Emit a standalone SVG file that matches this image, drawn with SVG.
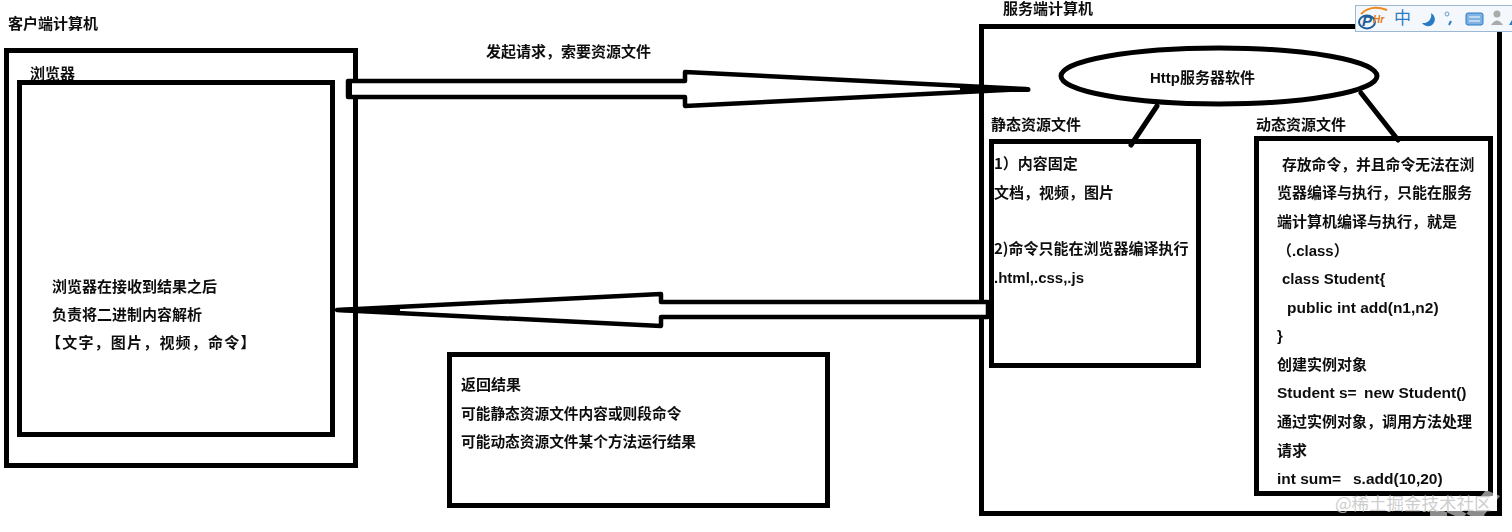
<svg xmlns="http://www.w3.org/2000/svg" width="1512" height="532" viewBox="0 0 1512 532">
<style>
.b{fill:none;stroke:#000;stroke-width:5}
.c{fill:#fff;stroke:#000;stroke-width:4.500;stroke-linejoin:round}
text{font-family:"Noto Sans CJK SC","Liberation Sans",sans-serif;font-size:15px;font-weight:700;fill:#111}
.en{font-family:"Liberation Sans","Noto Sans CJK SC",sans-serif;font-size:15px}
.w{font-size:15.500px}
</style>
<defs><filter id="s" x="-2%" y="-2%" width="104%" height="104%"><feGaussianBlur stdDeviation="0.5"/></filter></defs>
<rect width="1512" height="532" fill="#fff"/>
<g filter="url(#s)">
<g id="client">
<rect class="b" x="6.500" y="50.500" width="349" height="415"/>
<text x="8" y="29">客户端计算机</text>
</g>
<g id="browser">
<text x="30" y="79">浏览器</text>
<rect class="b" x="19.500" y="82.500" width="313" height="352"/>
<text x="52" y="292">浏览器在接收到结果之后</text>
<text x="52" y="320">负责将二进制内容解析</text>
<text x="46" y="348" style="letter-spacing:1.200px">【文字，图片，视频，命令】</text>
</g>
<g id="server">
<rect class="b" x="981.500" y="26.500" width="518" height="487"/>
<text x="1003" y="14">服务端计算机</text>
</g>
<g id="http">
<ellipse class="b" cx="1219" cy="76" rx="158" ry="28"/>
<text class="en" x="1150" y="83">Http服务器软件</text>
</g>
<g id="static">
<text x="991" y="130">静态资源文件</text>
<rect class="b" x="991.500" y="141.500" width="207" height="224"/>
<text x="994" y="169">1）内容固定</text>
<text x="994" y="198">文档，视频，图片</text>
<text x="994" y="254">2)命令只能在浏览器编译执行</text>
<text class="en" x="994" y="283">.html,.css,.js</text>
</g>
<g id="dynamic">
<text x="1256" y="130">动态资源文件</text>
<rect class="b" x="1256.500" y="138.500" width="234" height="355"/>
<text x="1282" y="170" style="font-size:14.800px">存放命令，并且命令无法在浏</text>
<text x="1277" y="198">览器编译与执行，只能在服务</text>
<text x="1277" y="227">端计算机编译与执行，就是</text>
<text class="en" x="1277" y="256">（.class）</text>
<text class="en" x="1282" y="284">class Student{</text>
<text class="en w" x="1287" y="313">public int add(n1,n2)</text>
<text class="en" x="1277" y="341">}</text>
<text x="1277" y="370">创建实例对象</text>
<text class="en w" x="1277" y="398">Student s= <tspan x="1364">new Student()</tspan></text>
<text x="1277" y="427">通过实例对象，调用方法处理</text>
<text x="1277" y="456">请求</text>
<text class="en w" x="1277" y="484">int sum= <tspan x="1353">s.add(10,20)</tspan></text>
</g>
<g id="result">
<rect class="b" x="449.500" y="354.500" width="378" height="151"/>
<text x="461" y="390">返回结果</text>
<text x="461" y="419" style="font-size:14.700px">可能静态资源文件内容或则段命令</text>
<text x="461" y="447" style="font-size:14.700px">可能动态资源文件某个方法运行结果</text>
</g>
<g id="connectors">
<path class="c" d="M348 81H685V72L1026 89L685 106V97H348Z"/>
<path d="M347 79h5v20h-5z"/>
<path d="M960 86.500L1028 87a2.500 2.500 0 0 1 0 5L960 92Z"/>
<path class="c" d="M988 302H661V294L337 310L661 326V317H988Z"/>
<path d="M337 308L400 306V314L337 312Z"/>
<path class="b" d="M1157 106L1131 145M1361 93L1398 140" stroke-linecap="round"/>
</g>
<text x="486" y="57">发起请求，索要资源文件</text>
</g>
<g id="ime">
<rect x="1355.500" y="5.500" width="157" height="26" fill="#f4f8fc" stroke="#9db8d2"/>
<ellipse cx="1367" cy="22" rx="8" ry="6.500" fill="none" stroke="#1f5f99" stroke-width="2"/>
<path d="M1361 14Q1371 4 1387 10" fill="none" stroke="#ee8a1d" stroke-width="2"/>
<text x="1362" y="26" style="font-size:15px;font-style:italic;fill:#1f5f99;font-family:'Liberation Sans',sans-serif">P</text>
<text x="1373" y="23" style="font-size:10px;font-style:italic;fill:#e67817;font-family:'Liberation Sans',sans-serif">Hr</text>
<text x="1394" y="24" style="font-size:17px;font-weight:400;fill:#2a7bc4">中</text>
<path d="M1431 13a7 7 0 1 1-9 10a8 8 0 0 0 9-10Z" fill="#2a7bc4"/>
<circle cx="1447" cy="14" r="2" fill="none" stroke="#6a9cc8"/>
<path d="M1451 21l-2 4" stroke="#2a7bc4" stroke-width="2"/>
<rect x="1466" y="13" width="17" height="12" rx="2" fill="#7fb2e2" stroke="#2a7bc4"/>
<path d="M1469 17h11M1469 21h11" stroke="#fff"/>
<circle cx="1497" cy="14" r="3.500" fill="#aaa"/>
<path d="M1491 25q6-9 12 0Z" fill="#aaa"/>
<path d="M1509 25h3v-5z" fill="#2a7bc4"/>
</g>
<g id="watermark">
<path d="M1430 532V505L1462 519L1486 490L1500 496L1484 515L1497 532H1470L1478 520L1447 503V532Z" fill="#fff" fill-opacity=".55"/>
<text x="1335" y="510" style="font-size:17.500px;font-weight:400;fill:#c4c4c4;fill-opacity:.85">@稀土掘金技术社区</text>
</g>
</svg>
